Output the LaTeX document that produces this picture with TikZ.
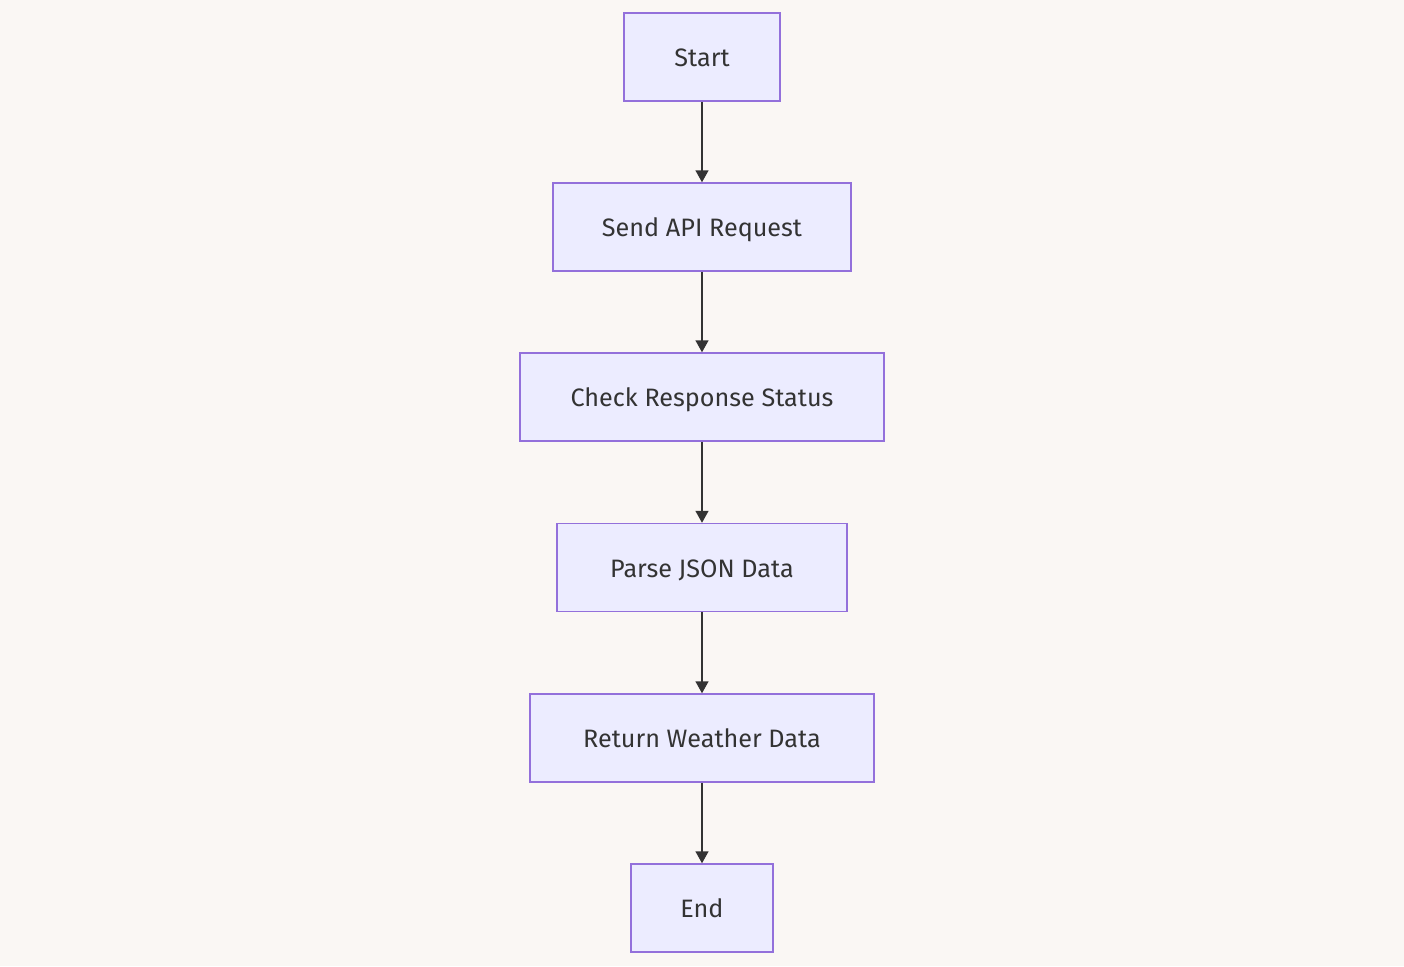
\documentclass[tikz,border=0pt]{standalone}
\usepackage{fontspec}
\setmainfont{Fira Sans}
\usetikzlibrary{arrows.meta}
\definecolor{bgc}{HTML}{FAF7F4}
\definecolor{boxfill}{HTML}{ECECFF}
\definecolor{boxline}{HTML}{9370DB}
\definecolor{txt}{HTML}{333333}
\tikzset{
  stepbox/.style={draw=boxline, fill=boxfill, line width=0.75pt, text=txt,
    font=\fontsize{12.6pt}{15pt}\selectfont, minimum height=44pt, inner sep=0pt,
    text height=11.5pt, text depth=2pt},
  flow/.style={draw=txt, line width=0.8pt, -{Triangle[width=6.5pt,length=6pt]}}
}
\begin{document}
\begin{tikzpicture}[x=0.5pt,y=-0.5pt]
\fill[bgc] (0,0) rectangle (1404,966);
\useasboundingbox (0,0) rectangle (1404,966);
\node[stepbox, minimum width=78pt] (start) at (702,57) {Start};
\node[stepbox, minimum width=149pt] (send) at (702,227) {Send API Request};
\node[stepbox, minimum width=182pt] (check) at (702,397) {Check Response Status};
\node[stepbox, minimum width=145pt] (parse) at (702,567.5) {Parse JSON Data};
\node[stepbox, minimum width=172pt] (ret) at (702,738) {Return Weather Data};
\node[stepbox, minimum width=71pt] (end) at (702,908) {End};
\draw[flow] (start) -- (send);
\draw[flow] (send) -- (check);
\draw[flow] (check) -- (parse);
\draw[flow] (parse) -- (ret);
\draw[flow] (ret) -- (end);
\end{tikzpicture}
\end{document}
